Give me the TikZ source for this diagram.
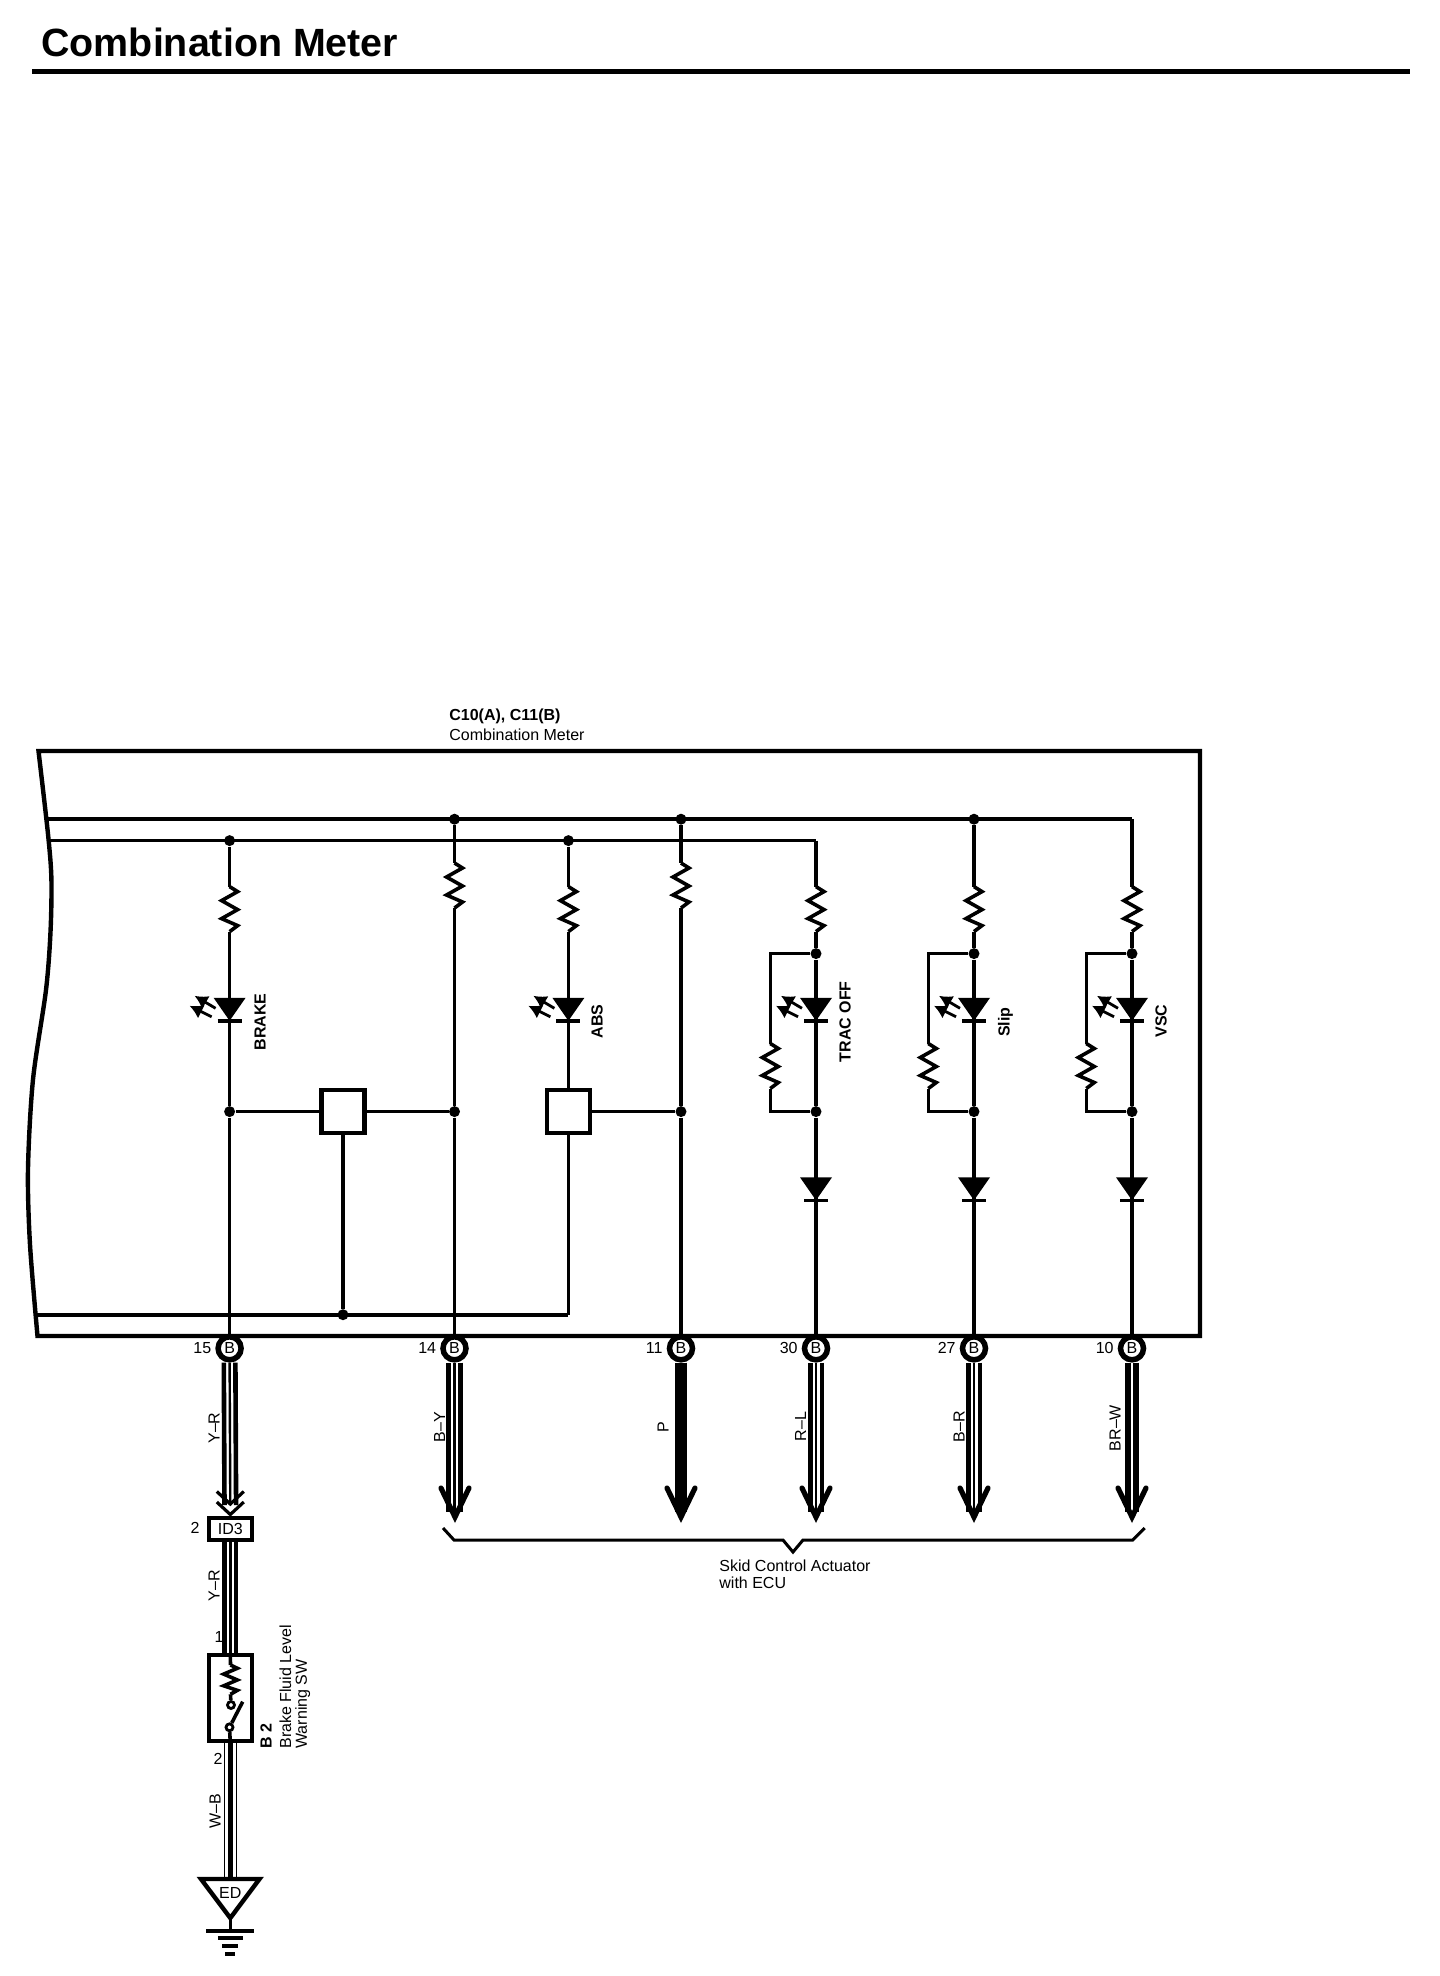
\documentclass[tikz,border=0pt]{standalone}
\usepackage{fontspec}
\setmainfont{Liberation Sans}
\usetikzlibrary{arrows.meta}
\newcommand{\lblfont}{\fontsize{8}{8.4}\selectfont}
\newcommand{\triwire}[2]{
	\draw[wirethick] ([xshift=-2.9pt]#1) -- ([xshift=-2.9pt]#2);
	\draw[wirethin] (#1) -- (#2);
	\draw[wirethick] ([xshift=2.9pt]#1) -- ([xshift=2.9pt]#2);
}
\tikzset{
	line/.style={line width=1.8pt},
	frameline/.style={line width=2.2pt},
	wirethick/.style={line width=2.3pt},
	wirethin/.style={line width=1.2pt},
	dot/.style={circle,fill=black,inner sep=0pt,minimum size=5.5pt},
	pin/.style={circle,draw,fill=white,line width=2.75pt,inner sep=0pt,minimum size=11.5pt,font=\lblfont},
	relaybox/.style={draw,fill=white,frameline,inner sep=0pt,minimum size=21.5pt},
	lbl/.style={inner sep=0pt,font=\lblfont},
	lblb/.style={inner sep=0pt,font=\lblfont\bfseries},
	vlbl/.style={lbl,rotate=90},
	vlblb/.style={lblb,rotate=90},
	respic/.pic={
		\coordinate (-top) at (0,0);
		\coordinate (-bot) at (0,45);
		\draw[line] (0,0) -- (8,5) -- (-8,14) -- (8,23) -- (-8,32) -- (8,39) -- (0,45);
	},
	diodepic/.pic={
		\fill (-16,0) -- (16,0) -- (0,23) -- cycle;
		\draw[line] (-12,23) -- (12,23);
	},
	ledpic/.pic={
		\pic at (0,0) {diodepic};
		\draw[-{Latex[length=6.5pt,width=7.5pt]},line width=1.4pt] (-18,19) -- (-40,8);
		\draw[-{Latex[length=6.5pt,width=7.5pt]},line width=1.4pt] (-14,10.5) -- (-35,-2);
	}
}
\begin{document}
\begin{tikzpicture}[x=0.5pt,y=-0.5pt]
	\useasboundingbox (0,0) rectangle (1440,1976);

	\node[inner sep=0pt,anchor=base west,font=\fontsize{19.7}{20}\selectfont\bfseries] (title) at (41,56) {Combination Meter};
	\draw[line width=2.5pt] (32,71.5) -- (1410,71.5);

	\node[lblb,anchor=west] (meterid) at (449,716.5) {C10(A), C11(B)};
	\node[lbl,anchor=west] (metername) at (449,735) {Combination Meter};

	\draw[frameline] plot[smooth] coordinates {(38.5,751) (48,834) (51.4,878.6) (50.5,932) (46,990) (33,1079.5) (28,1169) (30,1244.6) (37.5,1336)} -- (1200,1336) -- (1200,751) -- cycle;

	\coordinate (busa) at (47,819.2);
	\coordinate (busb) at (49,840.6);
	\coordinate (busc) at (36,1314.7);
	\coordinate (cma) at (1132,819.2);
	\coordinate (cmb) at (816,840.6);
	\coordinate (cmc) at (568.4,1314.7);

	\foreach \xx/\nm in {229.6/15,454.5/14,681/11,816/30,974/27,1132/10} {
		\node[pin] (p\nm) at (\xx,1348.3) {B};
		\node[lbl,anchor=east] (n\nm) at ({\xx-18},1348.3) {\nm};
		\coordinate (tip\nm) at (\xx,1512);
		\node[dot] (dj\nm) at (\xx,1111.6) {};
	}
	\node[dot] (dt15) at (229.6,840.6) {};
	\node[dot] (dt14) at (454.5,819.2) {};
	\node[dot] (dtabs) at (568.4,840.6) {};
	\node[dot] (dt11) at (681,819.2) {};
	\node[dot] (dt27) at (974,819.2) {};
	\node[dot] (dbus) at (343,1314.7) {};

	\draw[line] (busa) -- (cma);
	\draw[line] (busb) -- (cmb);
	\draw[line] (busc) -- (cmc);

	\pic (r15) at (229.6,886.6) {respic};
	\pic (r14) at (454.5,863) {respic};
	\pic (rabs) at (568.4,886.6) {respic};
	\pic (r11) at (681,863) {respic};
	\pic (r30) at (816,886.6) {respic};
	\pic (r27) at (974,886.6) {respic};
	\pic (r10) at (1132,886.6) {respic};

	\node[relaybox] (boxb) at (343,1111.6) {};
	\node[relaybox] (boxa) at (568.4,1111.6) {};

	\draw[line] (dt15) -- (r15-top);
	\draw[line] (r15-bot) -- (dj15) -- (p15);
	\draw[line] (dt14) -- (r14-top);
	\draw[line] (r14-bot) -- (dj14) -- (p14);
	\draw[line] (dtabs) -- (rabs-top);
	\draw[line] (rabs-bot) -- (boxa.north);
	\draw[line] (boxa.south) -- (cmc);
	\draw[line] (dt11) -- (r11-top);
	\draw[line] (r11-bot) -- (dj11) -- (p11);
	\draw[line] (dj15) -- (boxb.west);
	\draw[line] (boxb.east) -- (dj14);
	\draw[line] (boxb.south) -- (dbus);
	\draw[line] (boxa.east) -- (dj11);
	\draw[line] (cmb) -- (r30-top);
	\draw[line] (dt27) -- (r27-top);
	\draw[line] (cma) -- (r10-top);

	\foreach \xx/\nm in {816/30,974/27,1132/10} {
		\node[dot] (dh\nm) at (\xx,953.6) {};
		\pic (rs\nm) at ({\xx-45.7},1043.5) {respic};
		\draw[line] (r\nm-bot) -- (dh\nm) -- (dj\nm) -- (p\nm);
		\draw[line] (dh\nm) -| (rs\nm-top);
		\draw[line] (rs\nm-bot) |- (dj\nm);
		\pic at (\xx,997.8) {ledpic};
		\pic at (\xx,1177.3) {diodepic};
	}
	\pic at (229.6,997.8) {ledpic};
	\pic at (568.4,997.8) {ledpic};

	\node[vlblb] (lbrake) at (260,1022) {BRAKE};
	\node[vlblb] (labs) at (597,1021.4) {ABS};
	\node[vlblb] (ltrac) at (845,1021.7) {TRAC OFF};
	\node[vlblb] (lslip) at (1005.5,1022) {Slip};
	\node[vlblb] (lvsc) at (1161,1021) {VSC};

	\triwire{p14.south}{tip14}
	\triwire{p30.south}{tip30}
	\triwire{p27.south}{tip27}
	\draw[line width=6.15pt] (p11.south) -- (tip11);
	\draw[line width=2.9pt] ([xshift=-2.1pt]p10.south) -- ([xshift=-2.1pt]tip10);
	\draw[line width=2.9pt] ([xshift=2.1pt]p10.south) -- ([xshift=2.1pt]tip10);
	\foreach \xx in {455,681,816,974,1132} {
		\draw[line width=2.6pt,line cap=round] (\xx-14,1488) -- (\xx,1517) -- (\xx+14,1488);
	}

	\node[vlbl] (w14) at (439.7,1427) {B--Y};
	\node[vlbl] (w11) at (663,1427) {P};
	\node[vlbl] (w30) at (800.5,1426.7) {R--L};
	\node[vlbl] (w27) at (959,1426.7) {B--R};
	\node[vlbl] (w10) at (1115,1428) {BR--W};
	\node[vlbl] (w15) at (214,1428) {Y--R};

	\draw[line width=1.5pt] (443,1528) -- (454,1540) -- (783,1540) -- (793,1552) -- (803,1540) -- (1132.6,1540) -- (1144.7,1528);
	\node[lbl,anchor=west,align=left] (skid) at (719,1574.5) {Skid Control Actuator\\with ECU};

	\node[draw,frameline,fill=white,inner sep=0pt,minimum width=21.5pt,minimum height=11pt,font=\lblfont] (id3) at (230.3,1528.8) {ID3};
	\node[lbl,anchor=east] (id3pin) at (200,1528) {2};
	\coordinate (chev) at (230.3,1505);
	\triwire{p15.south}{chev}
	\foreach \yy in {1491.5,1502} {
		\draw[line width=1.6pt] (216.8,\yy) -- (230.3,\yy+12.5) -- (243.8,\yy);
	}

	\node[draw,frameline,inner sep=0pt,minimum width=21.5pt,minimum height=43pt] (b2) at (230.3,1698) {};
	\node[circle,draw,line width=1.4pt,fill=white,inner sep=0pt,minimum size=3.5pt] (swa) at (231,1705) {};
	\node[circle,draw,line width=1.4pt,fill=white,inner sep=0pt,minimum size=3.5pt] (swb) at (229.5,1727.3) {};
	\coordinate (swtip) at (242.7,1701.7);
	\triwire{id3.south}{b2.north}
	\pic (rsw) [xscale=0.85,yscale=0.65] at (230.5,1665) {respic};
	\draw[line] (b2.north) -- (rsw-top);
	\draw[line] (rsw-bot) -- (swa);
	\draw[line] (swb) -- (swtip);
	\draw[line] (swb) -- (b2.south);
	\node[lbl,anchor=east] (b2pina) at (224,1636.7) {1};
	\node[lbl,anchor=east] (b2pinb) at (223,1758.5) {2};
	\node[vlbl] (w15b) at (214,1585.7) {Y--R};

	\node[vlblb,anchor=west] (b2id) at (266,1749) {B 2};
	\node[vlbl,anchor=west] (b2na) at (285.5,1749) {Brake Fluid Level};
	\node[vlbl,anchor=west] (b2nb) at (302.7,1749) {Warning SW};

	\coordinate (edtop) at (230.3,1879);
	\coordinate (edtip) at (230.3,1918);
	\coordinate (gnd) at (230.3,1931);
	\draw[line width=0.75pt] ([xshift=-3pt]b2.south) -- ([xshift=-3pt]edtop);
	\draw[wirethick] (b2.south) -- (edtop);
	\draw[line width=0.75pt] ([xshift=3pt]b2.south) -- ([xshift=3pt]edtop);
	\node[vlbl] (wed) at (215,1811.6) {W--B};
	\draw[frameline,line join=miter] (201,1879) -- (259.5,1879) -- (edtip) -- cycle;
	\node[lbl] (ed) at (230.3,1893) {ED};
	\draw[line] (edtip) -- (gnd);
	\foreach \yy/\hw in {1931/24,1938/12.5,1946/8,1954/5} {
		\draw[line] (230.3-\hw,\yy) -- (230.3+\hw,\yy);
	}
\end{tikzpicture}
\end{document}
